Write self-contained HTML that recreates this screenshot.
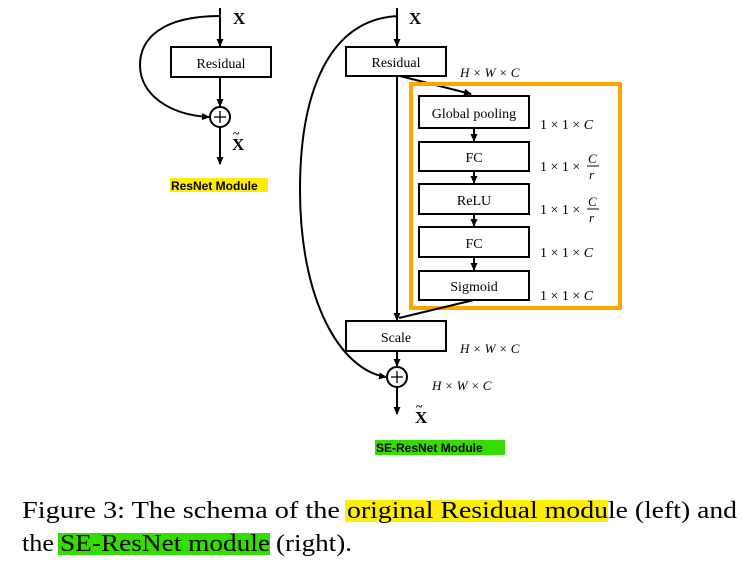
<!DOCTYPE html>
<html><head><meta charset="utf-8"><style>
html,body{margin:0;padding:0;background:#fff;}
svg{display:block}
.t{font-family:"Liberation Serif",serif;}
</style></head><body>
<svg width="746" height="565" viewBox="0 0 746 565" xmlns="http://www.w3.org/2000/svg">
<defs><marker id="a" markerWidth="8" markerHeight="8" refX="7" refY="4" orient="auto" markerUnits="userSpaceOnUse"><path d="M0,0.5 L8,4 L0,7.5 z" fill="#000"/></marker></defs>
<g stroke="#000" stroke-width="2" fill="none">
<line x1="220" y1="8" x2="220" y2="46" marker-end="url(#a)"/>
<rect x="171" y="47" width="100" height="30" fill="#fff"/>
<line x1="220" y1="77" x2="220" y2="106" marker-end="url(#a)"/>
<circle cx="220" cy="117" r="10"/>
<path d="M220,16 C160,16 140,40 140,65 C140,95 170,115 209,117" marker-end="url(#a)"/>
<line x1="220" y1="127" x2="220" y2="164" marker-end="url(#a)"/>
<line x1="397" y1="8" x2="397" y2="46" marker-end="url(#a)"/>
<rect x="346" y="47" width="100" height="29" fill="#fff"/>
<line x1="397" y1="76" x2="397" y2="320" marker-end="url(#a)"/>
<path d="M400,76 L471,94" marker-end="url(#a)"/>
<rect x="411" y="84" width="209" height="224" stroke="#FFA500" stroke-width="4"/>
<rect x="419" y="96" width="110" height="32" fill="#fff"/>
<rect x="419" y="142" width="110" height="29" fill="#fff"/>
<rect x="419" y="184" width="110" height="30" fill="#fff"/>
<rect x="419" y="227" width="110" height="30" fill="#fff"/>
<rect x="419" y="271" width="110" height="29" fill="#fff"/>
<line x1="474" y1="128" x2="474" y2="141" marker-end="url(#a)"/>
<line x1="474" y1="171" x2="474" y2="183" marker-end="url(#a)"/>
<line x1="474" y1="214" x2="474" y2="226" marker-end="url(#a)"/>
<line x1="474" y1="257" x2="474" y2="270" marker-end="url(#a)"/>
<path d="M474,300 L399,318"/>
<rect x="346" y="321" width="100" height="30" fill="#fff"/>
<line x1="397" y1="351" x2="397" y2="366" marker-end="url(#a)"/>
<circle cx="397" cy="377" r="10"/>
<path d="M397,16 C330,20 300,90 300,190 C300,300 340,370 386,377" marker-end="url(#a)"/>
<line x1="397" y1="387" x2="397" y2="414" marker-end="url(#a)"/>
</g>
<g stroke="#000" stroke-width="1.3"><line x1="220" y1="111" x2="220" y2="123"/><line x1="214" y1="117" x2="226" y2="117"/><line x1="397" y1="371" x2="397" y2="383"/><line x1="391" y1="377" x2="403" y2="377"/></g>
<rect x="170" y="178" width="98" height="14" fill="#ffee00"/>
<rect x="375" y="440" width="130" height="15" fill="#33dd00"/>
<rect x="345" y="500" width="263" height="22" fill="#ffee00"/>
<rect x="58" y="533" width="212" height="22" fill="#33dd00"/>
<g class="t" font-size="14" text-anchor="middle">
<text x="221" y="68">Residual</text>
<text x="396" y="67">Residual</text>
<text x="474" y="118">Global pooling</text>
<text x="474" y="162">FC</text>
<text x="474" y="205">ReLU</text>
<text x="474" y="248">FC</text>
<text x="474" y="291">Sigmoid</text>
<text x="396" y="342">Scale</text>
</g>
<g class="t" font-size="17" font-weight="bold">
<text x="233" y="24">X</text><text x="409" y="24">X</text>
<text x="232" y="150">X</text><text x="233" y="137" font-size="12">~</text>
<text x="415" y="423">X</text><text x="416" y="410" font-size="12">~</text>
</g>
<g class="t" font-size="13" font-style="italic">
<text x="460" y="77">H × W × C</text>
<text x="460" y="353">H × W × C</text>
<text x="432" y="390">H × W × C</text>
</g>
<g class="t" font-size="14">
<text x="540" y="129">1 × 1 × <tspan font-style="italic">C</tspan></text>
<text x="540" y="171">1 × 1 ×</text>
<text x="588" y="163" font-style="italic" font-size="13">C</text><line x1="587" y1="166" x2="599" y2="166" stroke="#000"/><text x="589" y="179" font-style="italic" font-size="13">r</text>
<text x="540" y="214">1 × 1 ×</text>
<text x="588" y="206" font-style="italic" font-size="13">C</text><line x1="587" y1="209" x2="599" y2="209" stroke="#000"/><text x="589" y="222" font-style="italic" font-size="13">r</text>
<text x="540" y="257">1 × 1 × <tspan font-style="italic">C</tspan></text>
<text x="540" y="300">1 × 1 × <tspan font-style="italic">C</tspan></text>
</g>
<g font-family="'Liberation Sans',sans-serif" font-size="12" font-weight="bold">
<text x="171" y="190">ResNet Module</text>
<text x="376" y="452">SE-ResNet Module</text>
</g>
<g class="t" font-size="24">
<text x="22" y="518" textLength="318" lengthAdjust="spacingAndGlyphs">Figure 3: The schema of the</text>
<text x="347" y="518" textLength="261" lengthAdjust="spacingAndGlyphs">original Residual modu</text>
<text x="608" y="518" textLength="129" lengthAdjust="spacingAndGlyphs">le (left) and</text>
<text x="22" y="551" textLength="32" lengthAdjust="spacingAndGlyphs">the</text>
<text x="60" y="551" textLength="210" lengthAdjust="spacingAndGlyphs">SE-ResNet module</text>
<text x="276" y="551" textLength="76" lengthAdjust="spacingAndGlyphs">(right).</text>
</g>
</svg>
</body></html>
